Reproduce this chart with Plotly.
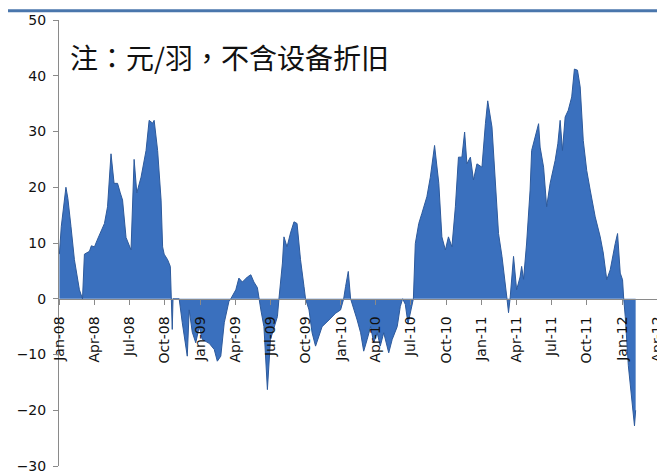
import plotly.graph_objects as go

dates = [
    "2008-01-01", "2008-01-06", "2008-01-18", "2008-01-23", "2008-01-31", "2008-02-09",
    "2008-02-22", "2008-03-01", "2008-03-06", "2008-03-19", "2008-03-24", "2008-04-01",
    "2008-04-08", "2008-04-27", "2008-05-05", "2008-05-14", "2008-05-22", "2008-05-31",
    "2008-06-07", "2008-06-13", "2008-06-22", "2008-07-05", "2008-07-13", "2008-07-20",
    "2008-07-31", "2008-08-13", "2008-08-21", "2008-08-30", "2008-09-03", "2008-09-12",
    "2008-09-21", "2008-09-25", "2008-09-29", "2008-10-08", "2008-10-15", "2008-10-17",
    "2008-10-20", "2008-10-22", "2008-11-07", "2008-11-15", "2008-11-28", "2008-12-03",
    "2008-12-11", "2008-12-20", "2008-12-29", "2009-01-06", "2009-01-24", "2009-02-06",
    "2009-02-14", "2009-02-23", "2009-03-04", "2009-03-16", "2009-03-21", "2009-04-03",
    "2009-04-11", "2009-04-20", "2009-05-03", "2009-05-12", "2009-05-20", "2009-05-29",
    "2009-06-02", "2009-06-07", "2009-06-15", "2009-06-24", "2009-07-02", "2009-07-11",
    "2009-07-20", "2009-07-24", "2009-08-02", "2009-08-06", "2009-08-14", "2009-08-23",
    "2009-09-01", "2009-09-09", "2009-09-18", "2009-09-27", "2009-10-01", "2009-10-10",
    "2009-10-18", "2009-10-27", "2009-11-05", "2009-11-13", "2009-12-01", "2009-12-18",
    "2009-12-31", "2010-01-08", "2010-01-13", "2010-01-20", "2010-01-26", "2010-01-30",
    "2010-02-12", "2010-02-21", "2010-03-01", "2010-03-10", "2010-03-19", "2010-03-27",
    "2010-04-05", "2010-04-13", "2010-04-22", "2010-05-05", "2010-05-14", "2010-05-27",
    "2010-06-04", "2010-06-10", "2010-06-17", "2010-06-24", "2010-07-01", "2010-07-08",
    "2010-07-13", "2010-07-22", "2010-07-30", "2010-08-12", "2010-08-21", "2010-09-01",
    "2010-09-12", "2010-09-20", "2010-09-29", "2010-10-07", "2010-10-16", "2010-10-25",
    "2010-11-02", "2010-11-11", "2010-11-18", "2010-11-24", "2010-12-03", "2010-12-11",
    "2010-12-20", "2011-01-02", "2011-01-11", "2011-01-17", "2011-01-28", "2011-02-05",
    "2011-02-14", "2011-02-23", "2011-03-03", "2011-03-08", "2011-03-12", "2011-03-16",
    "2011-03-25", "2011-04-02", "2011-04-11", "2011-04-15", "2011-04-20", "2011-04-28",
    "2011-05-07", "2011-05-11", "2011-05-20", "2011-05-29", "2011-06-02", "2011-06-11",
    "2011-06-19", "2011-06-28", "2011-07-11", "2011-07-18", "2011-07-24", "2011-07-30",
    "2011-08-06", "2011-08-14", "2011-08-23", "2011-08-30", "2011-09-07", "2011-09-14",
    "2011-09-22", "2011-10-01", "2011-10-10", "2011-10-23", "2011-11-05", "2011-11-13",
    "2011-11-22", "2011-12-01", "2011-12-14", "2011-12-20", "2011-12-27", "2012-01-02",
    "2012-01-05", "2012-01-09", "2012-01-17", "2012-01-26", "2012-02-02", "2012-02-05",
]

profit = [
    8, 13, 20, 18, 13, 7,
    1.6, 0, 8, 8.5, 9.5, 9.3,
    10.5, 13.5, 16.5, 26, 20.7, 20.7,
    19, 17.7, 11, 8.75, 25, 19,
    21.8, 26.6, 32, 31.5, 32, 26.6,
    17.7, 9.3, 8, 7, 5.8, 0,
    -5.5, 0, 0, -4.3, -10.3, -2,
    -6, -7.9, -5, -7.3, -8, -9.1,
    -11.2, -10.3, -4.3, -0.5, 0, 1.6,
    3.7, 3, 3.9, 4.3, 3, 2,
    0, -2, -5, -16.3, -7.3, -5,
    -3.2, 0, 6.4, 11.1, 9.3, 11.8,
    13.8, 13.5, 7, 2.2, 0, -2,
    -6.1, -8.5, -6.7, -5, -3.8, -2.6,
    -2, 0, 2.2, 4.9, 0, -0.8,
    -3.8, -6.1, -9.4, -7.3, -5, -7.9,
    -6.1, -8.5, -6.1, -9.7, -7.3, -5,
    -1.4, 0, -1, -4.5, -2, 0,
    9.9, 13.5, 15.3, 18.3, 21.8, 27.5,
    20.7, 11.1, 8.75, 11.1, 9.3, 16.5,
    25.4, 25.4, 29.9, 24.2, 25.4, 21.3,
    24.2, 23.6, 31.4, 35.5, 30.8, 22.4,
    11.7, 7.6, 2.2, 0, -2.5, 0,
    7.6, 1.6, 3.9, 5.8, 3.5, 10,
    19.5, 26.6, 29, 31.4, 27.2, 23.6,
    16.5, 20.7, 24.8, 27.8, 32, 26.6,
    32.6, 33.8, 36.2, 41.2, 41, 38,
    28.4, 23, 19.5, 14.7, 11.1, 8.2,
    3.4, 5.2, 9.9, 11.7, 4.6, 3.4,
    0, -3.2, -12, -18, -22.8, -20,
]

note_text = "注：元/羽，不含设备折旧"

axis_grey = "#8a8a8a"
label_font = dict(family="DejaVu Sans", size=14, color="#111111")

fig = go.Figure()
fig.add_trace(go.Scatter(
    x=dates, y=profit, mode="lines", fill="tozeroy",
    line=dict(color="#2d5a9c", width=1),
    fillcolor="rgb(58,112,190)",
    hoverinfo="skip", showlegend=False,
))

fig.update_layout(
    width=657, height=468,
    margin=dict(l=51, r=0, t=12, b=10),
    paper_bgcolor="white", plot_bgcolor="white",
    showlegend=False,
    xaxis=dict(
        type="date", range=["2007-12-31", "2012-04-16"],
        tick0="2008-01-01", dtick="M3", tickformat="%b-%y",
        tickangle=-90, ticks="outside", ticklen=5, tickcolor=axis_grey,
        showline=True, linecolor=axis_grey, linewidth=1,
        showgrid=False, zeroline=False,
        anchor="free", position=0.375,
        tickfont=label_font, ticklabelstandoff=6,
        ticklabeloverflow="allow",
    ),
    yaxis=dict(
        range=[-30, 50], dtick=10, tick0=0,
        ticks="outside", ticklen=5, tickcolor=axis_grey,
        showline=True, linecolor=axis_grey, linewidth=1,
        showgrid=False, zeroline=False,
        tickfont=label_font, ticklabelstandoff=4,
    ),
    annotations=[dict(
        text=note_text, xref="paper", yref="paper",
        x=0.015, y=0.917, xanchor="left", yanchor="middle",
        showarrow=False,
        font=dict(family="Noto Sans CJK TC", size=28, color="#111111"),
    )],
    shapes=[dict(
        type="line", xref="paper", yref="paper",
        x0=-0.1, x1=1.0, y0=1.0205, y1=1.0205,
        line=dict(color="#4a76ac", width=3),
    )],
)

fig.write_html("out.html")
